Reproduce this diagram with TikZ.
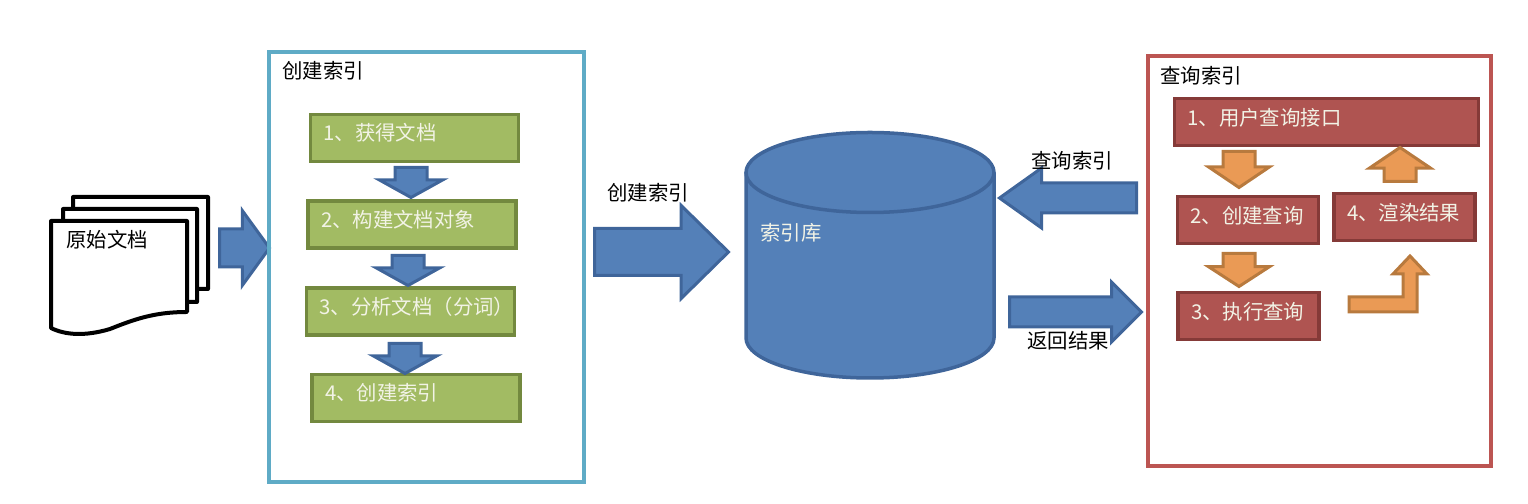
\documentclass[tikz,border=0pt]{standalone}
\usepackage{fontspec}
\setmainfont{Noto Sans CJK SC}
\definecolor{mBoxTeal}{HTML}{5FABC6}
\definecolor{mBoxRed}{HTML}{BC5552}
\definecolor{mArrowFill}{HTML}{5480B8}
\definecolor{mArrowLine}{HTML}{3F659A}
\definecolor{mGreenFill}{HTML}{A2BB63}
\definecolor{mGreenLine}{HTML}{73893F}
\definecolor{mRedFill}{HTML}{AF5451}
\definecolor{mRedLine}{HTML}{853A38}
\definecolor{mOrangeFill}{HTML}{EA9A55}
\definecolor{mOrangeLine}{HTML}{B87A3E}
\definecolor{mPaleText}{HTML}{F2F3E6}
\usepackage{tikz}
\usetikzlibrary{shapes.arrows}
\tikzset{
  stepgreen/.style={draw=mGreenLine, fill=mGreenFill, line width=.07cm, text=mPaleText, minimum height=.94cm, text width=3.64cm, inner xsep=.26cm, inner ysep=0pt, align=left, text height=.37cm, text depth=.26cm},
  stepred/.style={draw=mRedLine, fill=mRedFill, line width=.07cm, text=mPaleText, minimum height=.94cm, inner xsep=.26cm, inner ysep=0pt, align=left, text height=.37cm, text depth=.22cm},
  bluearrow/.style={single arrow, draw=mArrowLine, fill=mArrowFill, line width=.06cm, anchor=tail},
  orangearrow/.style={single arrow, draw=mOrangeLine, fill=mOrangeFill, line width=.06cm, anchor=tail},
  arrowdims/.style n args={4}{minimum height=#1cm, minimum width=#2cm, single arrow head extend=#3cm, single arrow tip angle=#4, inner xsep=0pt, inner ysep={(#2/2-#3)*1cm}},
  uprightdims/.style n args={4}{minimum height=#1cm, minimum width=#2cm, single arrow head extend=#3cm, single arrow tip angle=#4, inner ysep=0pt, inner xsep={(#2/2-#3)*1cm}},
  sheet/.style={draw=black, fill=white, line width=.08cm, line join=round},
  caption/.style={anchor=west, inner sep=0pt}
}
\begin{document}
\begin{tikzpicture}[font=\fontsize{11.6}{14}\selectfont]
\useasboundingbox (0,0) rectangle (30.56,10.08);
% source documents
\draw[sheet] (1.46,5.66) -- (1.46,6.14) -- (4.16,6.14) -- (4.16,4.30) -- (3.94,4.30) -- cycle;
\draw[sheet] (1.26,5.66) -- (1.26,5.90) -- (3.94,5.90) -- (3.94,4.04) -- (3.74,4.04) -- cycle;
\draw[sheet] (1.02,5.66) -- (3.74,5.66) -- (3.74,3.84) .. controls (3.1,3.84) and (2.7,3.7) .. (2.2,3.5) .. controls (1.7,3.35) and (1.3,3.38) .. (1.02,3.52) -- cycle;
\node[caption] (srcdoc) at (1.32,5.28) {原始文档};
\node[bluearrow, arrowdims={1.0}{1.44}{.37}{108}] (toindex) at (4.36,5.12) {};
% indexing box
\node[draw=mBoxTeal, line width=.08cm, minimum width=6.3cm, minimum height=8.6cm] (indexbox) at (8.52,4.73) {};
\node[caption] (indextitle) at (5.64,8.66) {创建索引};
\node[stepgreen] (g1) at (8.29,7.32) {1、获得文档};
\node[stepgreen] (g2) at (8.24,5.59) {2、构建文档对象};
\node[stepgreen] (g3) at (8.21,3.85) {3、分析文档（分词）};
\node[stepgreen] (g4) at (8.32,2.12) {4、创建索引};
\node[bluearrow, uprightdims={.6}{1.22}{.32}{122}, shape border rotate=270] (g1to2) at (8.22,6.76) {};
\node[bluearrow, uprightdims={.6}{1.22}{.32}{122}, shape border rotate=270] (g2to3) at (8.16,5.0) {};
\node[bluearrow, uprightdims={.6}{1.22}{.32}{122}, shape border rotate=270] (g3to4) at (8.10,3.24) {};
% index store
\node[bluearrow, arrowdims={2.68}{1.8}{.46}{89}] (tostore) at (11.86,5.04) {};
\node[caption] (tostorelabel) at (12.14,6.22) {创建索引};
\draw[draw=mArrowLine, fill=mArrowFill, line width=.07cm] (14.92,6.63) -- (14.92,3.32) arc[start angle=180, end angle=360, x radius=2.48, y radius=.8] -- (19.88,6.63);
\draw[draw=mArrowLine, fill=mArrowFill, line width=.07cm] (17.4,6.63) ellipse[x radius=2.48, y radius=.8];
\node[caption, text=mPaleText] (storelabel) at (15.2,5.42) {索引库};
\node[bluearrow, arrowdims={2.74}{1.14}{.30}{71}, shape border rotate=180] (fromquery) at (22.76,6.12) {};
\node[caption] (fromquerylabel) at (20.62,6.86) {查询索引};
\node[bluearrow, arrowdims={2.64}{1.14}{.30}{90}] (toquery) at (20.16,3.84) {};
\node[caption] (toquerylabel) at (20.54,3.26) {返回结果};
% query box
\node[draw=mBoxRed, line width=.08cm, minimum width=6.86cm, minimum height=8.2cm] (querybox) at (26.38,4.85) {};
\node[caption] (querytitle) at (23.2,8.56) {查询索引};
\node[stepred, text width=5.56cm] (r1) at (26.53,7.64) {1、用户查询接口};
\node[stepred, text width=2.3cm] (r2) at (24.96,5.68) {2、创建查询};
\node[stepred, text width=2.3cm] (r3) at (24.97,3.76) {3、执行查询};
\node[stepred, text width=2.3cm] (r4) at (28.09,5.74) {4、渲染结果};
\node[orangearrow, uprightdims={.72}{1.16}{.29}{112}, shape border rotate=270] (r1to2) at (24.78,7.08) {};
\node[orangearrow, uprightdims={.66}{1.16}{.29}{114}, shape border rotate=270] (r2to3) at (24.78,5.04) {};
\node[orangearrow, uprightdims={.68}{1.16}{.29}{112}, shape border rotate=90] (r4to1) at (28.0,6.42) {};
\draw[draw=mOrangeLine, fill=mOrangeFill, line width=.06cm] (26.98,4.14) -- (28.06,4.14) -- (28.06,4.6) -- (27.86,4.6) -- (28.2,4.96) -- (28.54,4.6) -- (28.34,4.6) -- (28.34,3.84) -- (26.98,3.84) -- cycle;
\end{tikzpicture}
\end{document}
